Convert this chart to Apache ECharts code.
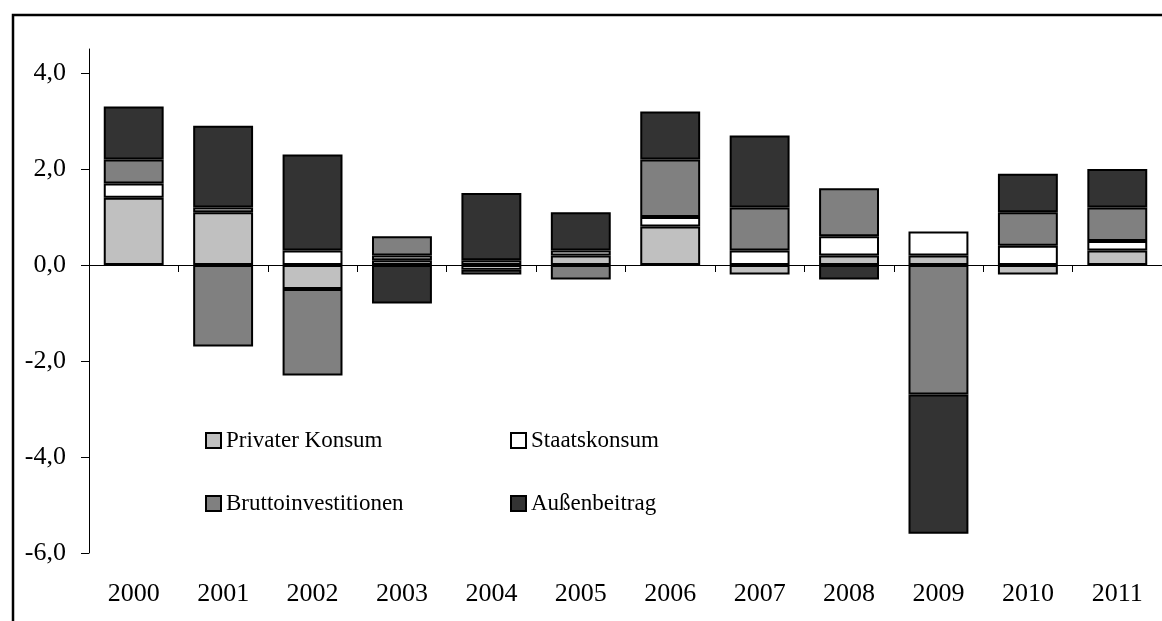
<!DOCTYPE html>
<html>
<head>
    <meta charset="utf-8" />
    <title>Wachstumsbeiträge</title>
    <script src="https://cdn.jsdelivr.net/npm/echarts@6/dist/echarts.min.js"></script>
    <style>
        html, body { margin: 0; padding: 0; background: #fff; }
        #main { width: 1162px; height: 621px; }
    </style>
</head>
<body>
    <div id="main"></div>
    <script type="text/javascript">
        var years = ['2000', '2001', '2002', '2003', '2004', '2005', '2006', '2007', '2008', '2009', '2010', '2011'];
        var privaterKonsum = [1.4, 1.1, -0.5, 0.1, 0.1, 0.2, 0.8, -0.2, 0.2, 0.2, -0.2, 0.3];
        var staatskonsum = [0.3, 0.1, 0.3, 0.1, -0.1, 0.1, 0.2, 0.3, 0.4, 0.5, 0.4, 0.2];
        var bruttoinvestitionen = [0.5, -1.7, -1.8, 0.4, -0.1, -0.3, 1.2, 0.9, 1.0, -2.7, 0.7, 0.7];
        var aussenbeitrag = [1.1, 1.7, 2.0, -0.8, 1.4, 0.8, 1.0, 1.5, -0.3, -2.9, 0.8, 0.8];
        var yTicks = [-6, -4, -2, 0, 2, 4];

        var font = 'Liberation Serif';

        function makeSeries(name, values, color) {
            return {
                name: name,
                type: 'bar',
                stack: 'total',
                xAxisIndex: 0,
                barCategoryGap: '33%',
                itemStyle: {
                    color: color,
                    borderColor: '#000',
                    borderWidth: 2
                },
                data: values
            };
        }

        var legendCommon = {
            orient: 'vertical',
            itemWidth: 15,
            itemHeight: 15,
            itemGap: 40,
            icon: 'rect',
            selectedMode: false,
            textStyle: { color: '#000', fontFamily: font, fontSize: 23 }
        };

        var option = {
            animation: false,
            backgroundColor: '#fff',
            textStyle: { fontFamily: font },
            legend: [
                Object.assign({ left: 200, top: 424, data: ['Privater Konsum', 'Bruttoinvestitionen'] }, legendCommon),
                Object.assign({ left: 505, top: 424, data: ['Staatskonsum', 'Außenbeitrag'] }, legendCommon)
            ],
            grid: { left: 89, right: 0, top: 49, bottom: 68, containLabel: false },
            xAxis: [{
                type: 'category',
                data: years,
                position: 'bottom',
                axisLine: { onZero: true, lineStyle: { color: '#000', width: 1 } },
                axisTick: { show: true, length: 7, lineStyle: { color: '#000' } },
                axisLabel: { show: false },
                splitLine: { show: false }
            }, {
                type: 'category',
                data: years,
                position: 'bottom',
                offset: 0,
                axisLine: { show: false, onZero: false },
                axisTick: { show: false },
                axisLabel: { show: true, color: '#000', fontFamily: font, fontSize: 26, margin: 28 },
                splitLine: { show: false }
            }],
            yAxis: {
                type: 'value',
                min: -6,
                max: 4.5,
                interval: 2,
                axisLine: { show: true, lineStyle: { color: '#000', width: 1 } },
                axisTick: { show: true, length: 8, customValues: yTicks, lineStyle: { color: '#000' } },
                axisLabel: {
                    color: '#000',
                    fontFamily: font,
                    fontSize: 26,
                    margin: 23,
                    customValues: yTicks,
                    formatter: function (v) { return v.toFixed(1).replace('.', ','); }
                },
                splitLine: { show: false }
            },
            graphic: [{
                type: 'rect',
                shape: { x: 13, y: 15, width: 1300, height: 800 },
                style: { fill: 'none', stroke: '#000', lineWidth: 2.5 },
                silent: true
            }],
            series: [
                makeSeries('Privater Konsum', privaterKonsum, '#c0c0c0'),
                makeSeries('Staatskonsum', staatskonsum, '#ffffff'),
                makeSeries('Bruttoinvestitionen', bruttoinvestitionen, '#808080'),
                makeSeries('Außenbeitrag', aussenbeitrag, '#333333')
            ]
        };

        var myChart = echarts.init(document.getElementById('main'));
        myChart.setOption(option);
    </script>
</body>
</html>
